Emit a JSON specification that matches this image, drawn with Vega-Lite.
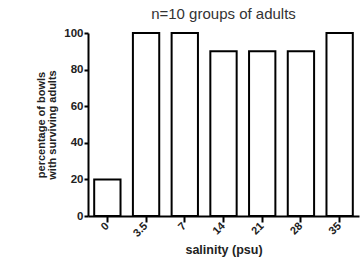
{
  "$schema": "https://vega.github.io/schema/vega-lite/v6.json",
  "autosize": "none",
  "width": 271,
  "height": 183,
  "padding": {"left": 88, "top": 33, "right": 1, "bottom": 51},
  "background": "white",
  "title": {"text": "n=10 groups of adults", "font": "Liberation Sans", "fontSize": 15, "fontWeight": "normal", "color": "#333", "offset": 5},
  "data": {"values": [
    {"salinity": "0", "pct": 20},
    {"salinity": "3.5", "pct": 100},
    {"salinity": "7", "pct": 100},
    {"salinity": "14", "pct": 90},
    {"salinity": "21", "pct": 90},
    {"salinity": "28", "pct": 90},
    {"salinity": "35", "pct": 100}
  ]},
  "mark": {"type": "bar", "fill": "white", "stroke": "black", "strokeWidth": 2},
  "encoding": {
    "x": {"field": "salinity", "type": "ordinal", "sort": null,
      "scale": {"paddingInner": 0.32, "paddingOuter": 0.16},
      "axis": {"title": "salinity (psu)", "labelAngle": -45, "labelAlign": "right", "labelBaseline": "middle",
        "labelFont": "Liberation Sans", "labelFontWeight": "bold", "labelFontSize": 11, "labelColor": "#222",
        "titleFont": "Liberation Sans", "titleFontWeight": "bold", "titleFontSize": 12.5, "titleColor": "#222",
        "domainColor": "black", "domainWidth": 2, "tickColor": "black", "tickWidth": 2, "tickSize": 6, "labelPadding": 2, "titlePadding": 5}},
    "y": {"field": "pct", "type": "quantitative",
      "scale": {"domain": [0, 100]},
      "axis": {"title": ["percentage of bowls", "with surviving adults"], "values": [0, 20, 40, 60, 80, 100], "grid": false,
        "labelFont": "Liberation Sans", "labelFontWeight": "bold", "labelFontSize": 11.5, "labelColor": "#222",
        "titleFont": "Liberation Sans", "titleFontWeight": "bold", "titleFontSize": 11, "titleColor": "#222", "titleLineHeight": 11.5,
        "domainColor": "black", "domainWidth": 2, "tickColor": "black", "tickWidth": 2, "tickSize": 4, "labelPadding": 1, "titlePadding": 6}}
  },
  "config": {"view": {"stroke": null}}
}
